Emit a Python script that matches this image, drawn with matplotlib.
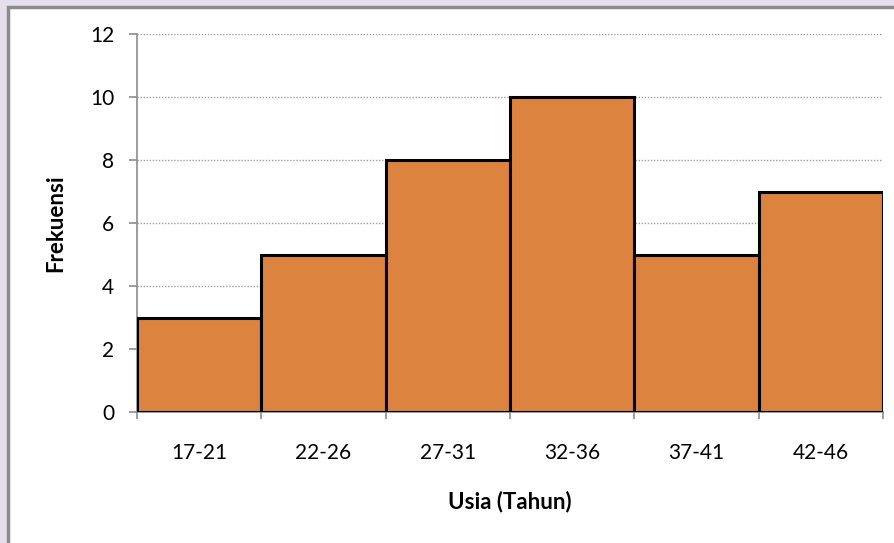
import matplotlib
matplotlib.use("Agg")
import matplotlib.pyplot as plt
from matplotlib.patches import Rectangle

categories = ["17-21", "22-26", "27-31", "32-36", "37-41", "42-46"]
frequencies = [3, 5, 8, 10, 5, 7]
y_ticks = [0, 2, 4, 6, 8, 10, 12]

plt.rcParams['font.family'] = ['Lato', 'DejaVu Sans']

W, H = 895, 543
fig = plt.figure(figsize=(W / 100, H / 100), dpi=100)
fig.patch.set_facecolor("#e4dfec")

# white chart panel with grey frame
fig.patches.append(Rectangle((8 / W, -0.05), 1.05, 1 - 7 / H + 0.05,
                             transform=fig.transFigure, facecolor="white",
                             edgecolor="#8c8c8c", linewidth=2.5, zorder=-10))

ax = fig.add_axes([137 / W, 1 - 412 / H, (883 - 137) / W, (412 - 34) / H])
ax.set_zorder(5)
ax.set_facecolor("none")

x = list(range(len(categories)))
ax.bar(x, frequencies, width=1.0, color="#db833f", edgecolor="black",
       linewidth=2.2, zorder=3)

ax.set_xlim(-0.5, len(categories) - 0.5)
ax.set_ylim(0, 12)
ax.set_yticks(y_ticks)
ax.set_yticklabels([str(t) for t in y_ticks], fontsize=15)
ax.yaxis.grid(True, linestyle=(0, (1, 1.2)), color="#a0a0a0", linewidth=1.0, zorder=0)

ax.set_xticks([i - 0.5 for i in range(len(categories) + 1)])
ax.set_xticklabels([])
ax.set_xticks(x, minor=True)
ax.set_xticklabels(categories, minor=True, fontsize=15)
ax.tick_params(axis="x", which="minor", length=0, pad=22)
ax.tick_params(axis="x", which="major", length=5, color="#8c8c8c", width=1.2)
ax.tick_params(axis="y", length=5.5, color="#8c8c8c", width=1.2, pad=11)

for side in ["top", "right"]:
    ax.spines[side].set_visible(False)
for side in ["left", "bottom"]:
    ax.spines[side].set_color("#8c8c8c")
    ax.spines[side].set_linewidth(1.2)

ax.set_ylabel("Frekuensi", fontsize=16, fontweight="bold", labelpad=17)
ax.set_xlabel("Usia (Tahun)", fontsize=16, fontweight="bold", labelpad=20)

fig.savefig("out.png", dpi=100, facecolor=fig.get_facecolor())
